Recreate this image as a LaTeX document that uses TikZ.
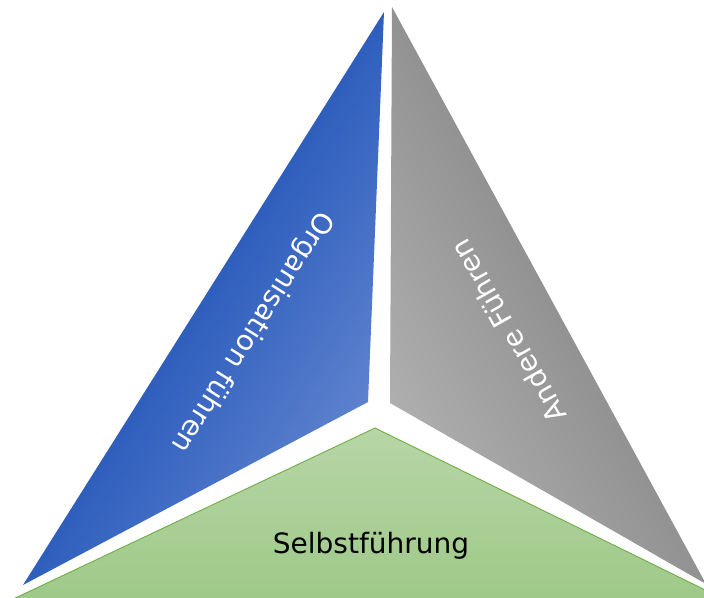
\documentclass[tikz,border=0pt]{standalone}
\usepackage{fontspec}
\setmainfont{DejaVu Sans}
\begin{document}
\begin{tikzpicture}[x=1pt,y=1pt,
  facelabel/.style={font=\fontsize{28}{30}\selectfont, inner sep=0pt, anchor=center},
  selfface/.style={top color=selflight, bottom color=selfdark, draw=selfline, line width=0.9pt}]
\definecolor{orgdark}{HTML}{2E5EBD}
\definecolor{orglight}{HTML}{5E82CE}
\definecolor{otherlight}{HTML}{AFAFAF}
\definecolor{otherdark}{HTML}{929292}
\definecolor{selflight}{HTML}{B7D6A7}
\definecolor{selfdark}{HTML}{9DC886}
\definecolor{selfline}{HTML}{6FAE45}
\useasboundingbox (0,0) rectangle (704,597);
\clip (0,0) rectangle (704,597);
% left face: gradient runs from its outer edge towards the inner corner
\begin{scope}
  \clip (384,585) -- (368,195) -- (23,12) -- cycle;
  \begin{scope}[transform canvas={shift={(23,12)}, rotate=57.8}]
    \shade[top color=orgdark, bottom color=orglight] (-40,-196) rectangle (740,2);
  \end{scope}
\end{scope}
% right face
\begin{scope}
  \clip (392,590) -- (390,194) -- (706,13) -- cycle;
  \begin{scope}[transform canvas={shift={(706,13)}, rotate=118.6}]
    \shade[top color=otherlight, bottom color=otherdark] (-40,-2) rectangle (740,193);
  \end{scope}
\end{scope}
% bottom face, cut off by the page edge
\shade[selfface] (375,169) -- (-10,-13) -- (746,-13) -- cycle;
% face labels
\node[facelabel, text=white, rotate=237.8] (org) at (252,265) {Organisation führen};
\node[facelabel, text=white, rotate=119.5] (other) at (508,266) {Andere Führen};
\node[facelabel, text=black] (self) at (371,51) {Selbstführung};
\end{tikzpicture}
\end{document}
